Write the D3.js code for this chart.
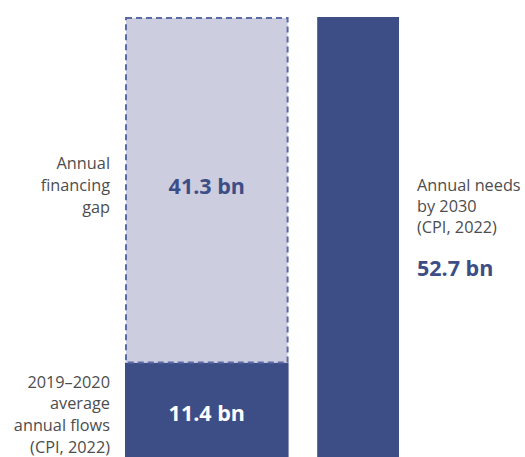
<!DOCTYPE html>
<html><head><meta charset="utf-8">
<script src="https://cdn.jsdelivr.net/npm/d3@7"></script>
<style>body{margin:0;background:#fff}svg{display:block}</style>
</head><body>
<svg id="c" width="525" height="457"></svg>
<script>
const categories = ["current", "needs"];
const flows = [11.4];
const gap = [41.3];
const needs = [52.7];
const valueLabels = ["11.4 bn", "41.3 bn", "52.7 bn"];
const leftFlowLabel = ["2019–2020", "average", "annual flows", "(CPI, 2022)"];
const leftGapLabel = ["Annual", "financing", "gap"];
const rightLabel = ["Annual needs", "by 2030", "(CPI, 2022)"];

const dark = "#3d4d86", light = "#cdcde0", dashC = "#5b6ba8", grey = "#4d4d4d";
const font = "'Open Sans', 'Noto Sans', sans-serif";
const svg = d3.select("#c");

const y = d3.scaleLinear().domain([0, needs[0]]).range([458, 17]);
const x = d3.scaleLinear().domain([0, 3.35]).range([125, 399]);
const bars = {current: [0, 2], needs: [2.35, 3.35]};

const lx0 = x(bars.current[0]), lx1 = x(bars.current[1]);
svg.append("rect").attr("x", lx0).attr("width", lx1 - lx0)
  .attr("y", y(flows[0])).attr("height", y(0) - y(flows[0])).attr("fill", dark);
svg.append("rect").attr("x", lx0 + 1).attr("width", lx1 - lx0 - 2)
  .attr("y", y(flows[0] + gap[0]) + 1).attr("height", y(flows[0]) - y(flows[0] + gap[0]) - 1)
  .attr("fill", light).attr("stroke", dashC).attr("stroke-width", 2).attr("stroke-dasharray", "6,4");
const rx0 = x(bars.needs[0]), rx1 = x(bars.needs[1]);
svg.append("rect").attr("x", rx0).attr("width", rx1 - rx0)
  .attr("y", y(needs[0])).attr("height", y(0) - y(needs[0])).attr("fill", dark);

const lc = (lx0 + lx1) / 2;
svg.append("text").attr("x", lc).attr("y", (y(0) + y(flows[0])) / 2 + 3).attr("dy", "0.35em")
  .attr("text-anchor", "middle").attr("font-family", font).attr("font-weight", 700)
  .attr("font-size", 21.5).attr("fill", "#fff").text(valueLabels[0]);
svg.append("text").attr("x", lc).attr("y", (y(flows[0]) + y(flows[0] + gap[0])) / 2 - 3).attr("dy", "0.35em")
  .attr("text-anchor", "middle").attr("font-family", font).attr("font-weight", 700)
  .attr("font-size", 21.5).attr("fill", dark).text(valueLabels[1]);

function block(lines, xx, y0, lh, anchor) {
  const t = svg.append("text").attr("font-family", font).attr("font-size", 16.3)
    .attr("fill", grey).attr("text-anchor", anchor);
  lines.forEach((l, i) => t.append("tspan").attr("x", xx).attr("y", y0 + i * lh).attr("dy", "0.35em").text(l));
}
block(leftGapLabel, 110, 163, 22, "end");
block(leftFlowLabel, 110, 382, 21.7, "end");
block(rightLabel, 417, 185, 21, "start");
svg.append("text").attr("x", 417).attr("y", 268).attr("dy", "0.35em")
  .attr("font-family", font).attr("font-weight", 700).attr("font-size", 21.5)
  .attr("fill", dark).text(valueLabels[2]);
</script>
</body></html>
